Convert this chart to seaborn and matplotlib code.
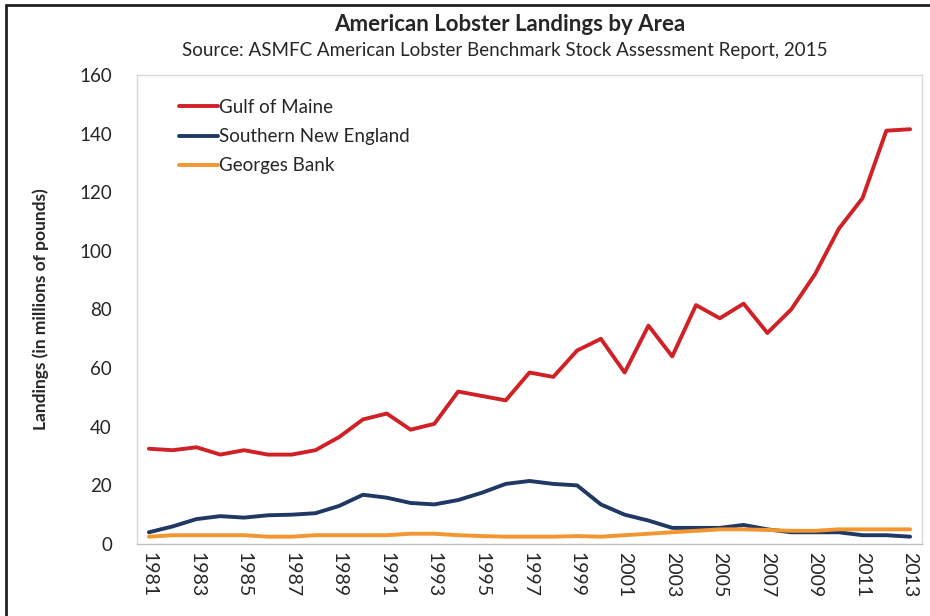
import pandas as pd
import numpy as np
import matplotlib.pyplot as plt
import seaborn as sns
from matplotlib.lines import Line2D

# -----------------------------
# Data
# -----------------------------

years = list(range(1981, 2014))

gulf_of_maine = [32.5, 32, 33, 30.5, 32, 30.5, 30.5, 32, 36.5, 42.5,
                 44.5, 39, 41, 52, 50.5, 49, 58.5, 57, 66, 70,
                 58.5, 74.5, 64, 81.5, 77, 82, 72, 80, 92, 107.5,
                 118, 141, 141.5]

southern_new_england = [4, 6, 8.5, 9.5, 9, 9.8, 10, 10.5, 13, 16.8,
                        15.8, 14, 13.5, 15, 17.5, 20.5, 21.5, 20.5, 20, 13.5,
                        10, 8, 5.5, 5.5, 5.5, 6.5, 5, 4, 4, 4,
                        3, 3, 2.5]

georges_bank = [2.5, 3, 3, 3, 3, 2.5, 2.5, 3, 3, 3,
                3, 3.5, 3.5, 3, 2.7, 2.5, 2.5, 2.5, 2.7, 2.5,
                3, 3.5, 4, 4.5, 5, 5, 4.8, 4.5, 4.5, 5,
                5, 5, 5]

areas = ["Gulf of Maine", "Southern New England", "Georges Bank"]
colors = ["#d02127", "#1f3864", "#f39530"]

df = pd.DataFrame({
    "year": years * 3,
    "landings": gulf_of_maine + southern_new_england + georges_bank,
    "area": [a for a in areas for _ in years],
})

# -----------------------------
# Plot
# -----------------------------

sns.set_style("white")
plt.rcParams['font.family'] = ['Lato', 'DejaVu Sans']
plt.rcParams['text.color'] = '#262626'

fig = plt.figure(figsize=(9.3, 6.16), dpi=100)
ax = fig.add_axes([137 / 930, 1 - 544 / 616, 785 / 930, 469 / 616])

sns.lineplot(
    data=df,
    x="year",
    y="landings",
    hue="area",
    hue_order=areas,
    palette=colors,
    linewidth=2.8,
    ax=ax
)

ax.set_xlim(1980.5, 2013.5)
ax.set_ylim(0, 160)
ax.set_yticks(range(0, 161, 20))
ax.set_xticks(years[::2])
ax.set_xticklabels([str(y) for y in years[::2]], rotation=-90, fontsize=14)
ax.tick_params(axis='y', labelsize=13.5, length=0, pad=18, labelcolor='#262626')
ax.tick_params(axis='x', length=0, pad=6, labelcolor='#262626')

ax.set_xlabel("")
ax.set_ylabel("Landings (in millions of pounds)", fontsize=12.5,
              fontweight="bold", labelpad=22)

for s in ax.spines.values():
    s.set_color("#d9d9d9")
    s.set_linewidth(1)
ax.spines['bottom'].set_color("#bfbfbf")

leg = ax.legend(loc="upper left", bbox_to_anchor=(0.032, 0.985),
                frameon=False, fontsize=13.5, handlelength=2.1,
                handletextpad=0.05, labelspacing=0.65)

fig.text(0.548, 0.961, "American Lobster Landings by Area",
         ha="center", va="center", fontsize=16, fontweight="bold")
fig.text(0.543, 0.918,
         "Source: ASMFC American Lobster Benchmark Stock Assessment Report, 2015",
         ha="center", va="center", fontsize=13.5)

# outer frame (left and top)
fig.add_artist(Line2D([6 / 930, 6 / 930], [0, 1 - 5 / 616],
                      color="#222222", linewidth=2))
fig.add_artist(Line2D([6 / 930, 1], [1 - 5 / 616, 1 - 5 / 616],
                      color="#222222", linewidth=2))

plt.savefig("out.png", dpi=100)
